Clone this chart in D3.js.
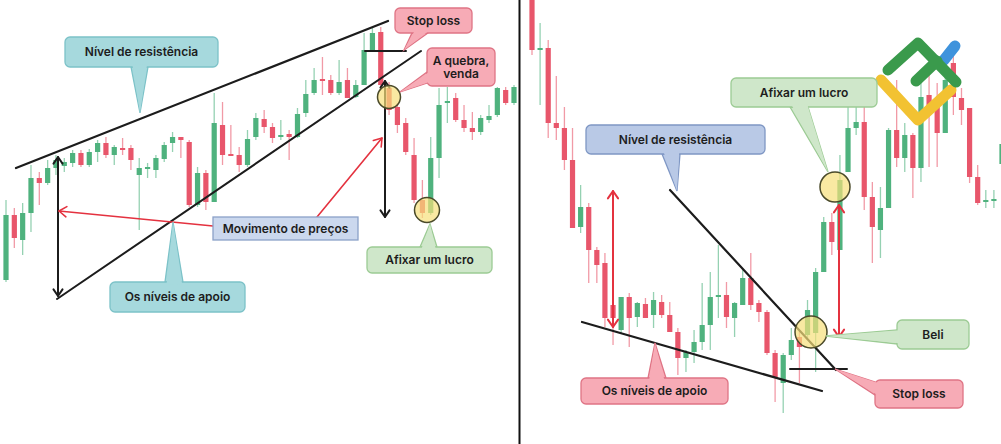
<!DOCTYPE html>
<html><head><meta charset="utf-8">
<script src="https://cdn.jsdelivr.net/npm/d3@7"></script>
<style>html,body{margin:0;padding:0;background:#fff;}svg{display:block;}</style>
</head><body>
<svg id="c" width="1001" height="444"></svg>
<script>
// ---- data (price units) ----
const leftOpen  = [164,229,204,231,266,261,276,278,281,291,279,292,301,289,296,296,269,275,274,285,301,307,302,239,271,242,319,290,289,279,307,325,317,307,310,307,331,351,365,364,351,364,347,359,394,412,356,337,321,289,244,231,286,341,346,324,316,312,324,329,354,341];
const leftClose = [229,206,231,266,261,276,284,282,291,279,292,301,289,297,295,284,276,277,286,299,307,304,239,271,242,321,289,289,279,305,326,317,306,309,307,330,350,364,363,351,362,346,359,394,411,359,334,319,292,244,231,286,339,343,324,316,312,326,328,356,341,357];
const leftHigh  = [244,236,241,279,272,284,289,286,294,294,295,304,307,299,306,299,286,281,289,302,312,307,304,277,274,351,342,319,297,314,331,334,321,324,314,336,364,376,387,369,384,376,364,411,417,417,362,341,326,306,264,307,356,357,351,339,332,329,339,357,357,359];
const leftLow   = [162,196,189,212,239,259,269,272,277,277,277,282,286,279,289,274,214,266,266,282,292,286,237,237,234,242,279,289,272,277,304,311,301,304,284,306,327,349,349,349,349,346,346,359,394,354,329,311,289,241,226,229,266,321,322,312,304,309,321,327,339,339];

const rightOpen  = [449,394,396,321,316,284,217,237,194,181,139,114,147,127,140,129,142,129,112,86,92,102,119,147,149,126,139,166,141,132,91,61,89,107,109,111,172,222,194,272,316,322,247,214,236,314,286,309,276,349,341,311,381,346,336,267,242,243,280];
const rightClose = [394,396,321,316,284,216,237,194,179,126,126,147,126,141,126,144,129,112,86,92,102,119,147,149,127,141,166,139,132,91,67,89,104,97,134,172,222,202,264,316,322,247,217,236,314,286,309,276,347,334,311,364,347,334,267,241,244,245,300];
const rightHigh  = [449,421,404,368,337,316,259,241,197,191,144,147,151,142,146,152,149,142,116,94,114,161,172,199,162,142,174,191,144,134,94,91,116,114,144,176,227,231,289,339,337,337,262,257,316,364,321,311,362,371,361,367,389,356,336,279,254,254,301];
const rightLow   = [389,339,306,304,274,216,211,161,161,117,99,111,97,117,126,116,126,112,69,72,81,94,94,126,116,107,139,134,122,89,42,31,84,61,104,72,172,189,194,272,309,234,181,186,236,277,272,246,262,277,277,311,329,319,261,239,236,236,244];

// ---- layout ----
const svg = d3.select("#c");
const y = d3.scaleLinear().domain([0,444]).range([444,0]);
const xL = d3.scaleLinear().domain([0,61]).range([6,514]);
const xR = d3.scaleLinear().domain([0,58]).range([532,1002]);
const GREEN="#4fb27e", RED="#e8566b";
const INK="#1c1c1c", ARED="#e4323f";

const defs = svg.append("defs");
defs.append("clipPath").attr("id","cl").append("rect").attr("x",0).attr("y",0).attr("width",518).attr("height",444);
defs.append("clipPath").attr("id","cr").append("rect").attr("x",521).attr("y",0).attr("width",480).attr("height",444);

function drawCandles(g, O, C, Hh, Lw, x){
  const idx = d3.range(O.length);
  const col = i => C[i]>=O[i]?GREEN:RED;
  g.selectAll("line.w").data(idx).join("line").attr("class","w")
    .attr("x1",i=>x(i)).attr("x2",i=>x(i)).attr("y1",i=>y(Hh[i])).attr("y2",i=>y(Lw[i]))
    .attr("stroke",col).attr("stroke-width",1.3).attr("stroke-opacity",0.6);
  g.selectAll("rect.b").data(idx).join("rect").attr("class","b")
    .attr("x",i=>x(i)-2.6).attr("width",5.2)
    .attr("y",i=>y(Math.max(O[i],C[i])))
    .attr("height",i=>Math.max(2,Math.abs(y(O[i])-y(C[i]))))
    .attr("fill",col);
}
drawCandles(svg.append("g").attr("clip-path","url(#cl)"), leftOpen,leftClose,leftHigh,leftLow,xL);
drawCandles(svg.append("g").attr("clip-path","url(#cr)"), rightOpen,rightClose,rightHigh,rightLow,xR);

// divider
svg.append("line").attr("x1",519.5).attr("x2",519.5).attr("y1",0).attr("y2",444).attr("stroke","#111").attr("stroke-width",2);

// logo
const logo = svg.append("g").attr("fill","none").attr("stroke-linecap","round").attr("stroke-linejoin","round").attr("stroke-width",11);
logo.append("path").attr("d","M881,80 L918,120 L951,90").attr("stroke","#f2c232");
logo.append("path").attr("d","M944,60 L955,46").attr("stroke","#3f93dc");
logo.append("path").attr("d","M888,70 L918,43 L956,82").attr("stroke","#3a9a4c");
logo.append("path").attr("d","M916,81 L937,61").attr("stroke","#3a9a4c");

// trend lines
function seg(p, color, w){
  svg.append("line").attr("x1",p[0]).attr("y1",p[1]).attr("x2",p[2]).attr("y2",p[3])
    .attr("stroke",color).attr("stroke-width",w).attr("stroke-linecap","round");
}
seg([16,168,388,21],INK,2.2);
seg([57,299,421,51],INK,2);
seg([365,51,406,51],INK,2);
seg([670,190,836,370],INK,2.2);
seg([582,322,822,391],INK,2.2);
seg([790,369,847,369],INK,2);

// arrows
function head(x0,y0,x1,y1,color,w,s){
  const a=Math.atan2(y1-y0,x1-x0);
  const p=[[x1-s*Math.cos(a-0.6),y1-s*Math.sin(a-0.6)],[x1,y1],[x1-s*Math.cos(a+0.6),y1-s*Math.sin(a+0.6)]];
  svg.append("path").attr("d","M"+p.map(q=>q.join(",")).join("L")).attr("fill","none")
    .attr("stroke",color).attr("stroke-width",w).attr("stroke-linecap","round").attr("stroke-linejoin","round");
}
function arrow(x0,y0,x1,y1,color,w,both,s){
  seg([x0,y0,x1,y1],color,w);
  head(x0,y0,x1,y1,color,w,s);
  if(both) head(x1,y1,x0,y0,color,w,s);
}
arrow(58,296,58,157,INK,2,true,8);
arrow(385,217,385,81,INK,2,true,8);
arrow(213,226,59,211,ARED,1.6,false,9);
arrow(317,217,382,138,ARED,1.6,false,9);
arrow(613,327,613,191,ARED,2,true,9);
arrow(839,337,839,205,ARED,2,true,9);

// circles
function circ(cx,cy,r){
  svg.append("circle").attr("cx",cx).attr("cy",cy).attr("r",r)
    .attr("fill","#f7e07a").attr("fill-opacity",0.7).attr("stroke","#4a4a2a").attr("stroke-width",1.5);
}
circ(389,97,11.5);
circ(427,210,12.5);
circ(835,187,15);
circ(811,332,16);

// labels
const styles = {
  teal:{fill:"#a6d9dd",stroke:"#7cc2c8"},
  blue:{fill:"#b9c9e6",stroke:"#7f97c4"},
  lblue:{fill:"#cbd8ee",stroke:"#8ba1c8"},
  pink:{fill:"#f7abb6",stroke:"#df7485"},
  green:{fill:"#cfe7ca",stroke:"#9ccb94"}
};
function label(b, lines, st, ptr, rx){
  const s=styles[st];
  const g=svg.append("g");
  if(ptr){
    g.append("path").attr("d","M"+ptr.map(q=>q.join(",")).join("L")+"Z").attr("fill",s.fill).attr("stroke",s.stroke).attr("stroke-width",1.3);
  }
  g.append("rect").attr("x",b[0]).attr("y",b[1]).attr("width",b[2]).attr("height",b[3]).attr("rx",rx).attr("fill",s.fill).attr("stroke",s.stroke).attr("stroke-width",1.3);
  if(ptr){
    const cx=b[0]+b[2]/2, cy=b[1]+b[3]/2;
    const q=ptr.map((p,k)=>{ if(k==2) return p; const dx=cx-p[0],dy=cy-p[1],d=Math.hypot(dx,dy); return [p[0]+dx/d*2.5,p[1]+dy/d*2.5];});
    g.append("path").attr("d","M"+q.map(p=>p.join(",")).join("L")+"Z").attr("fill",s.fill);
  }
  const lh=13.5, cx=b[0]+b[2]/2, cy=b[1]+b[3]/2;
  lines.forEach((t,k)=>{
    g.append("text").attr("x",cx).attr("y",cy+(k-(lines.length-1)/2)*lh).attr("dy","0.36em")
      .attr("text-anchor","middle").attr("font-family","Inter, 'Noto Sans', sans-serif").attr("font-weight",600)
      .attr("font-size",12).attr("fill","#1d1d1d").text(t);
  });
}
label([65,37,153,30],["Nível de resistência"],"teal",[[131,67],[148,67],[140,113]],5);
label([110,282,135,30],["Os níveis de apoio"],"teal",[[165,282],[183,282],[173,222]],5);
label([213,217,145,23],["Movimento de preços"],"lblue",null,0);
label([395,8,77,25],["Stop loss"],"pink",[[412,33],[428,33],[404,50]],5);
label([427,48,68,38],["A quebra,","venda"],"pink",[[427,72],[427,83],[400,92]],5);
label([367,247,125,26],["Afixar um lucro"],"green",[[420,247],[437,247],[430,224]],5);
label([586,125,179,29],["Nível de resistência"],"blue",[[662,154],[680,154],[677,191]],5);
label([731,78,146,29],["Afixar um lucro"],"green",[[790,107],[808,107],[828,172]],5);
label([897,320,72,29],["Beli"],"green",[[897,330],[897,344],[826,336]],5);
label([875,380,88,28],["Stop loss"],"pink",[[875,382],[875,395],[835,369]],5);
label([581,378,147,26],["Os níveis de apoio"],"pink",[[648,378],[666,378],[655,343]],5);
</script>
</body></html>
